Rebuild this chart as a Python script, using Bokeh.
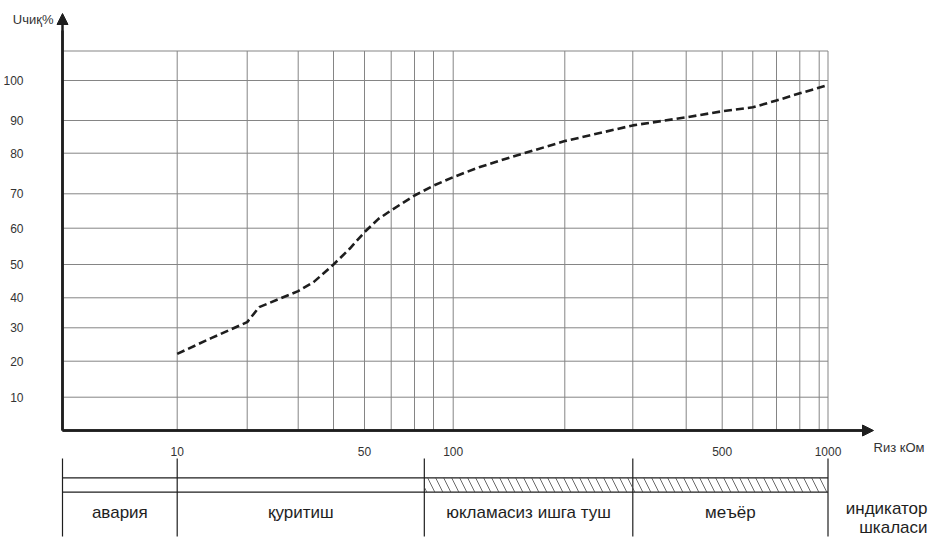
import numpy as np
from bokeh.plotting import figure
from bokeh.models import Range1d, FixedTicker, LinearAxis, Arrow, NormalHead
from bokeh.core.properties import value
from bokeh.embed import file_html
from bokeh.resources import INLINE

# ---------------- data ----------------
r_kohm = [10, 14, 20, 22, 30, 34, 40, 45, 50, 55, 60, 70, 80, 100, 118, 143,
          200, 300, 400, 500, 600, 700, 800, 990]
u_pct = [22.2, 26.9, 31.9, 36.9, 42.0, 44.7, 50.0, 54.4, 58.9, 62.7, 65.2, 69.5,
         72.0, 74.1, 76.6, 79.0, 83.7, 88.5, 90.8, 92.3, 93.3, 95.0, 96.8, 98.8]

x_grid_values = [10, 20, 30, 40, 50, 60, 70, 80, 100,
                 200, 300, 400, 500, 600, 700, 800, 900, 1000]
x_tick_values = [10, 50, 100, 500, 1000]
y_grid_values = [10, 20, 30, 40, 50, 60, 70, 80, 90, 100, 110]
y_tick_values = [10, 20, 30, 40, 50, 60, 70, 80, 90, 100]

zone_names = ["авария", "қуритиш", "юкламасиз ишга туш", "меъёр"]
zone_edges_kohm = [10, 75, 300, 1000]   # zone boundaries after the axis origin
hatched_from_kohm = 75
scale_label = "индикатор"
scale_label2 = "шкаласи"
y_title = "Uчиқ%"
x_title = "Rиз кОм"

# ------- the drawing's own non-uniform scales (scale units) -------
X_SCALE_R = [10, 20, 30, 40, 50, 60, 70, 80, 100,
             200, 300, 400, 500, 600, 700, 800, 900, 1000]
X_SCALE_POS = [114.7, 184.7, 235.7, 271.0, 302.0, 328.7, 352.0, 371.0, 390.7,
               502.3, 570.3, 623.7, 659.7, 690.3, 714.0, 737.3, 756.7, 765.5]
Y_SCALE_U = [0, 10, 20, 30, 40, 50, 60, 70, 80, 90, 100, 110]
Y_SCALE_POS = [0, 33.3, 69.3, 102.7, 132.7, 166.0, 202.3, 236.7, 277.3,
               310.0, 350.0, 379.5]


def xs(r):
    return [round(float(v), 3) for v in
            np.interp(np.log10(np.asarray(r, dtype=float)),
                      np.log10(X_SCALE_R), X_SCALE_POS)]


def ys(u):
    return [round(float(v), 3) for v in
            np.interp(np.asarray(u, dtype=float), Y_SCALE_U, Y_SCALE_POS)]


INK = "#1e1e1e"
GRID = "#858585"
FONT = "Liberation Sans"

p = figure(width=931, height=539, x_range=Range1d(-62, 869), y_range=Range1d(-109, 430),
           output_backend="svg", toolbar_location=None, min_border=0,
           x_axis_type=None, y_axis_type=None)
p.outline_line_color = None
p.background_fill_color = "white"
p.border_fill_color = "white"

x_top = xs([1000])[0]
y_top = ys([110])[0]

# grid
gx = xs(x_grid_values)
p.segment(x0=gx, x1=gx, y0=[0] * len(gx), y1=[y_top] * len(gx),
          line_color=GRID, line_width=1)
gy = ys(y_grid_values)
p.segment(x0=[0] * len(gy), x1=[x_top] * len(gy), y0=gy, y1=gy,
          line_color=GRID, line_width=1)

# axes
xt = xs(x_tick_values)
xaxis = LinearAxis(fixed_location=0, ticker=FixedTicker(ticks=xt),
                   major_label_overrides={t: str(v) for t, v in zip(xt, x_tick_values)},
                   bounds=(0, 800), axis_line_color=INK, axis_line_width=2.5,
                   major_tick_line_color=None, minor_tick_line_color=None,
                   major_label_standoff=10, major_label_text_font=FONT,
                   major_label_text_font_size="12px", major_label_text_color="#333333")
p.add_layout(xaxis, "below")

yt = ys(y_tick_values)
yaxis = LinearAxis(fixed_location=0, ticker=FixedTicker(ticks=yt),
                   major_label_overrides={t: str(v) for t, v in zip(yt, y_tick_values)},
                   bounds=(0, 400), axis_line_color=INK, axis_line_width=2.5,
                   major_tick_line_color=None, minor_tick_line_color=None,
                   major_label_standoff=33, major_label_text_font=FONT,
                   major_label_text_font_size="12px", major_label_text_color="#333333",
                   major_label_orientation="horizontal")
p.add_layout(yaxis, "left")

p.add_layout(Arrow(end=NormalHead(size=11, fill_color=INK, line_color=INK),
                   x_start=0, y_start=0, x_end=0, y_end=417,
                   line_color=INK, line_width=2.5))
p.add_layout(Arrow(end=NormalHead(size=11, fill_color=INK, line_color=INK),
                   x_start=0, y_start=0, x_end=811, y_end=0,
                   line_color=INK, line_width=2.5))

# curve
p.line(xs(r_kohm), ys(u_pct), line_color=INK, line_width=2.6, line_dash="8 4",
       line_join="round")

# axis titles
p.text(x=[-9], y=[411], text=[y_title], text_font=value(FONT), text_font_size="13px",
       text_align="right", text_baseline="middle", text_color="#333333")
p.text(x=[811], y=[-17], text=[x_title], text_font=value(FONT), text_font_size="13px",
       text_align="left", text_baseline="middle", text_color="#333333")

# zone bar
edges = [0.0] + xs(zone_edges_kohm)
bar_top, bar_bot = -47.3, -61.7
p.segment(x0=[0, 0], x1=[x_top, x_top], y0=[bar_top, bar_bot], y1=[bar_top, bar_bot],
          line_color=INK, line_width=1.2)
p.segment(x0=edges, x1=edges, y0=[-28] * len(edges), y1=[-106] * len(edges),
          line_color=INK, line_width=1.2)
hx = xs([hatched_from_kohm])[0]
p.quad(left=[hx], right=[x_top], bottom=[bar_bot], top=[bar_top],
       fill_color=None, line_color=None, hatch_pattern="\\", hatch_scale=16,
       hatch_weight=0.8, hatch_color="#444444")

centers = [(a + b) / 2 for a, b in zip(edges[:-1], edges[1:])]
p.text(x=centers, y=[-82] * len(centers), text=zone_names, text_font=value(FONT),
       text_font_size="17px", text_align="center", text_baseline="middle",
       text_color=INK)
p.text(x=[865, 865], y=[-78, -97], text=[scale_label, scale_label2],
       text_font=value(FONT), text_font_size="17px", text_align="right",
       text_baseline="middle", text_color=INK)

open("out.html", "w").write(file_html(p, INLINE))
